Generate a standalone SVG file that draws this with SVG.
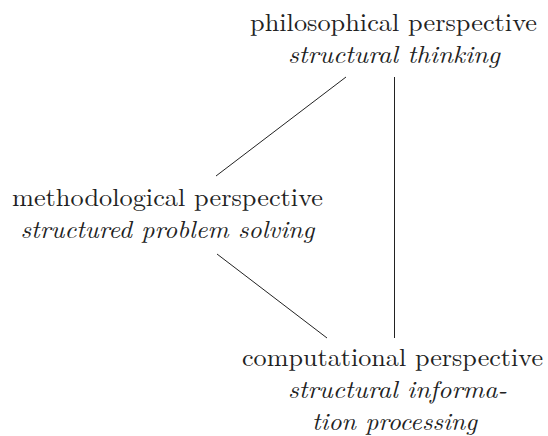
<svg xmlns="http://www.w3.org/2000/svg" width="548" height="436" viewBox="0 0 548 436">
<style>
text{font-family:"Latin Modern Roman","CMU Serif","Liberation Serif","DejaVu Serif",serif;font-size:25px;fill:#222;text-anchor:middle}
.it{font-style:italic}
.edge{stroke:#222;stroke-width:1;fill:none}
</style>
<rect width="548" height="436" fill="#fff"/>
<g id="connectors">
<line class="edge" x1="346" y1="77" x2="216" y2="176"/>
<line class="edge" x1="394.5" y1="77" x2="394.5" y2="338"/>
<line class="edge" x1="217" y1="254" x2="327" y2="338"/>
</g>
<g id="philosophical">
<text x="393.5" y="31" textLength="287" lengthAdjust="spacingAndGlyphs">philosophical perspective</text>
<text class="it" x="394" y="63" textLength="212" lengthAdjust="spacingAndGlyphs">structural thinking</text>
</g>
<g id="methodological">
<text x="167.5" y="206" textLength="311" lengthAdjust="spacingAndGlyphs">methodological perspective</text>
<text class="it" x="167.5" y="238" textLength="294" lengthAdjust="spacingAndGlyphs">structured problem solving</text>
</g>
<g id="computational">
<text x="392.5" y="366" textLength="301" lengthAdjust="spacingAndGlyphs">computational perspective</text>
<text class="it" x="397.5" y="398" textLength="219" lengthAdjust="spacingAndGlyphs">structural informa-</text>
<text class="it" x="394.5" y="430" textLength="165" lengthAdjust="spacingAndGlyphs">tion processing</text>
</g>
</svg>
